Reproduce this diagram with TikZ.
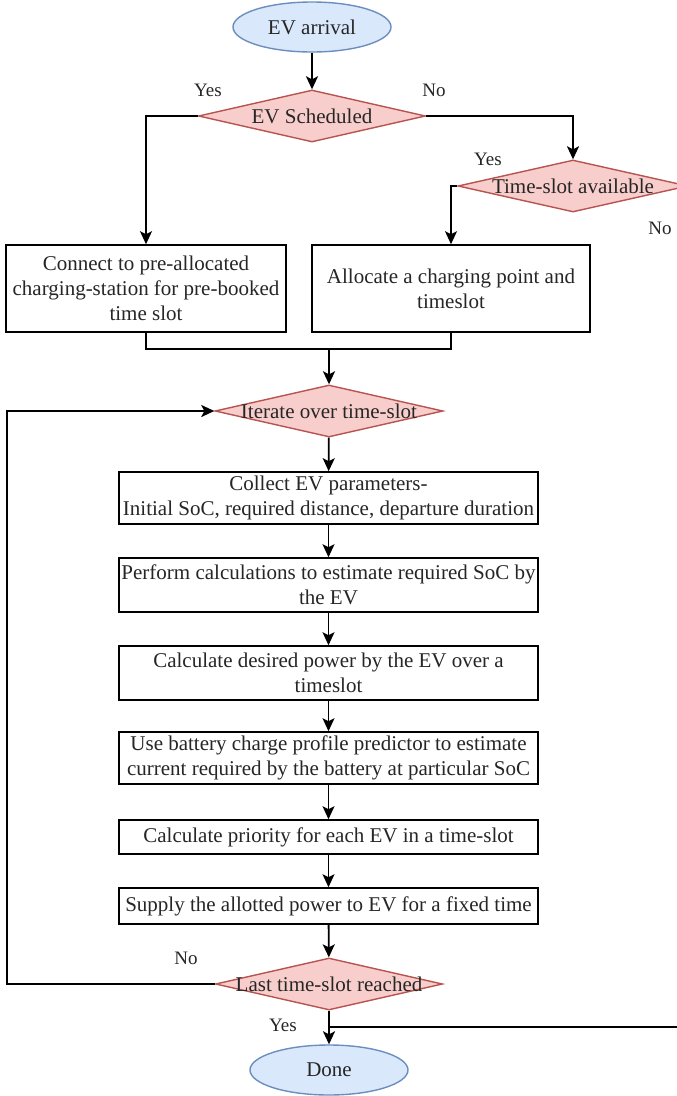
\documentclass[tikz,border=0pt]{standalone}
\usepackage{fontspec}
\setmainfont{Liberation Serif}
\usetikzlibrary{shapes.geometric,arrows.meta}
\definecolor{ellfill}{HTML}{DAE8FC}
\definecolor{elldraw}{HTML}{6C8EBF}
\definecolor{diafill}{HTML}{F8CECC}
\definecolor{diadraw}{HTML}{B85450}
\begin{document}
\begin{tikzpicture}[x=1pt,y=-1pt,
  every node/.style={font=\fontsize{21}{25}\selectfont, text=black!85},
  term/.style={ellipse, draw=elldraw, fill=ellfill, line width=1.4pt, minimum width=158pt, minimum height=50pt, inner sep=0pt},
  dec/.style={diamond, draw=diadraw, fill=diafill, line width=1.4pt, inner sep=0pt, minimum width=#1, minimum height=52pt},
  proc/.style={draw, line width=1.6pt, align=center, inner sep=2pt, minimum height=#1},
  stepbox/.style={proc=#1, minimum width=419pt},
  lbl/.style={font=\fontsize{19}{21}\selectfont},
  arr/.style={line width=1.8pt, -{Stealth[length=13pt,width=12pt,inset=3pt]}},
  ln/.style={line width=1.8pt}
]
\fill[white] (0,0) rectangle (677,1096);
\useasboundingbox (0,0) rectangle (677,1096);

% nodes
\node[term] (start) at (312,27) {EV arrival};
\node[dec=227pt, label={center:EV Scheduled}] (d1) at (312,116) {};
\node[dec=230pt, label={center:Time-slot available}] (d2) at (573,186) {};
\node[proc=87pt, minimum width=280pt] (b1) at (146,288.5) {Connect to pre-allocated\\charging-station for pre-booked\\time slot};
\node[proc=87pt, minimum width=278pt] (b2) at (451,288.5) {Allocate a charging point and\\timeslot};
\node[dec=228pt, label={center:Iterate over time-slot}] (d3) at (329,411) {};
\node[stepbox=52pt] (s1) at (328.5,498) {Collect EV parameters-\\Initial SoC, required distance, departure duration};
\node[stepbox=54pt] (s2) at (328.5,585) {Perform calculations to estimate required SoC by\\the EV};
\node[stepbox=54pt] (s3) at (328.5,673) {Calculate desired power by the EV over a\\timeslot};
\node[stepbox=52pt] (s4) at (328.5,758) {Use battery charge profile predictor to estimate\\current required by the battery at particular SoC};
\node[stepbox=34pt] (s5) at (328.5,837) {Calculate priority for each EV in a time-slot};
\node[stepbox=36pt] (s6) at (328.5,906) {Supply the allotted power to EV for a fixed time};
\node[dec=227pt, label={center:Last time-slot reached}] (d4) at (329,984) {};
\node[term] (done) at (329,1070) {Done};

% labels
\node[lbl] (y1) at (208,90) {Yes};
\node[lbl] (n1) at (434,90) {No};
\node[lbl] (y2) at (488,159) {Yes};
\node[lbl] (n2) at (660,228) {No};
\node[lbl] (n3) at (186,958) {No};
\node[lbl] (y3) at (283,1025) {Yes};

% helper coordinates
\coordinate (merge) at (329,349);
\coordinate (loopc) at (7,984);
\coordinate (rin) at (677,1027);
\coordinate (join) at (329,1027);

% connectors
\draw[arr] (start) -- (d1);
\draw[arr] (d1.west) -| (b1.north);
\draw[arr] (d1.east) -| (d2.north);
\draw[arr] (d2.west) -| (b2.north);
\draw[ln] (b1.south) |- (merge) -| (b2.south);
\draw[arr] (merge) -- (d3.north);
\draw[arr] (d3) -- (s1);
\draw[arr] (s1) -- (s2);
\draw[arr] (s2) -- (s3);
\draw[arr] (s3) -- (s4);
\draw[arr] (s4) -- (s5);
\draw[arr] (s5) -- (s6);
\draw[arr] (s6) -- (d4);
\draw[arr] (d4.west) -- (loopc) |- (d3.west);
\draw[arr] (d4) -- (done);
\draw[ln] (rin) -- (join);
\end{tikzpicture}
\end{document}
